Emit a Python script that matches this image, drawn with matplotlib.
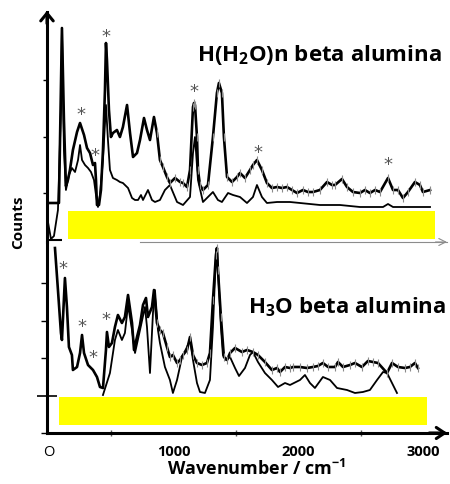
import matplotlib.pyplot as plt
from matplotlib.patches import Rectangle

plt.rcParams['font.family'] = ['Open Sans', 'DejaVu Sans']
plt.rcParams['mathtext.fontset'] = 'custom'
plt.rcParams['mathtext.rm'] = 'Open Sans:bold'
plt.rcParams['mathtext.it'] = 'Open Sans:bold'
plt.rcParams['mathtext.bf'] = 'Open Sans:bold'

# ---- H(H2O)n beta alumina (upper panel), counts in arbitrary units ----
wn_exp_top = [-16, 80, 104, 120, 136, 152, 168, 192, 225, 249, 281, 305, 329, 353, 369, 377,
              385, 401, 417, 433, 449, 457, 465, 481, 497, 513, 545, 569, 593, 626, 650, 674,
              706, 730, 762, 786, 810, 842, 866, 890, 914, 946, 970, 1011, 1051, 1075, 1107,
              1131, 1155, 1163, 1171, 1187, 1195, 1211, 1235, 1275, 1315, 1347, 1363, 1387,
              1403, 1428, 1468, 1508, 1532, 1572, 1612, 1636, 1668, 1708, 1748, 1788, 1829,
              1869, 1909, 1949, 1989, 2037, 2077, 2117, 2173, 2230, 2270, 2294, 2350, 2390,
              2438, 2494, 2534, 2574, 2615, 2655, 2719, 2759, 2799, 2839, 2879, 2935, 2975,
              2999, 3056]
cnt_exp_top = [39, 39, 214, 122, 56, 62, 72, 92, 110, 119, 107, 94, 89, 77, 79, 62,
               37, 37, 52, 92, 152, 199, 182, 132, 105, 109, 112, 105, 115, 137, 109, 85,
               89, 102, 124, 112, 102, 125, 109, 82, 75, 65, 59, 64, 60, 59, 55,
               72, 135, 139, 137, 105, 72, 57, 52, 57, 105, 149, 159, 149,
               105, 65, 60, 65, 69, 64, 72, 77, 82, 72, 59, 54, 55,
               54, 55, 52, 49, 52, 50, 50, 52, 60, 57, 57, 63, 55,
               50, 49, 52, 49, 52, 50, 64, 52, 52, 44, 50, 60, 57,
               50, 52]

wn_calc_top = [-8, 16, 40, 72, 96, 104, 120, 136, 160, 184, 209, 233, 249, 265, 289, 313, 337,
               361, 377, 393, 409, 433, 457, 473, 489, 513, 545, 569, 593, 634, 666, 690,
               714, 738, 754, 794, 826, 850, 890, 930, 970, 1027, 1075, 1131, 1155, 1171,
               1195, 1235, 1291, 1315, 1355, 1387, 1436, 1476, 1532, 1588, 1636, 1668, 1708,
               1748, 1829, 1933, 2013, 2173, 2334, 2494, 2679, 2719, 2759, 3056]
cnt_calc_top = [20, 3, 6, 32, 132, 212, 92, 52, 67, 74, 70, 82, 97, 82, 77, 74, 70,
                62, 47, 35, 47, 82, 137, 102, 72, 64, 62, 60, 59, 54, 44, 42,
                42, 47, 42, 52, 42, 40, 42, 52, 57, 40, 37, 45, 89, 105,
                62, 40, 47, 50, 42, 40, 49, 47, 45, 39, 45, 57, 45,
                39, 40, 40, 39, 37, 37, 35, 35, 38, 35, 35]

# ---- H3O beta alumina (lower panel) ----
wn_exp_bot = [48, 72, 96, 104, 128, 144, 160, 184, 192, 225, 249, 265, 281, 313, 353, 385, 409,
              433, 457, 465, 481, 505, 529, 553, 585, 609, 634, 666, 682, 706, 730, 754, 778,
              794, 826, 842, 866, 890, 914, 946, 970, 994, 1027, 1051, 1075, 1107, 1131, 1155,
              1187, 1227, 1267, 1291, 1315, 1339, 1347, 1355, 1379, 1403, 1428, 1452, 1492,
              1548, 1588, 1636, 1676, 1732, 1788, 1829, 1853, 1893, 1933, 1957, 2013, 2069,
              2117, 2157, 2197, 2238, 2294, 2318, 2358, 2414, 2454, 2510, 2558, 2598, 2639,
              2711, 2751, 2799, 2855, 2895, 2935, 2959]
cnt_exp_bot = [185, 143, 100, 93, 155, 126, 86, 78, 63, 66, 80, 98, 80, 68, 63, 56, 46,
               45, 83, 101, 86, 90, 106, 118, 110, 116, 138, 110, 83, 96, 108, 128, 135,
               116, 126, 143, 110, 103, 100, 86, 76, 78, 70, 73, 78, 83, 96, 78,
               70, 68, 70, 80, 133, 178, 185, 163, 116, 76, 73, 80, 85,
               81, 83, 81, 78, 71, 63, 65, 61, 66, 65, 66, 66, 65,
               66, 67, 70, 66, 66, 71, 66, 68, 70, 66, 72, 71, 70,
               60, 70, 66, 65, 66, 70, 65]

wn_calc_bot = [433, 489, 529, 553, 585, 609, 634, 666, 690, 730, 770, 786, 810, 834, 850, 874,
               890, 930, 970, 994, 1027, 1067, 1107, 1131, 1155, 1187, 1211, 1251, 1291, 1315,
               1339, 1347, 1355, 1379, 1395, 1420, 1452, 1492, 1524, 1572, 1612, 1636, 1676,
               1732, 1788, 1837, 1893, 1933, 2013, 2053, 2093, 2133, 2197, 2254, 2310, 2390,
               2454, 2518, 2574, 2631, 2679, 2711, 2751, 2791]
cnt_calc_bot = [38, 60, 93, 103, 93, 100, 128, 103, 80, 103, 126, 106, 60, 120, 143, 103,
                90, 66, 53, 40, 53, 76, 86, 93, 73, 50, 41, 40, 53, 106,
                178, 185, 166, 106, 78, 73, 76, 65, 57, 65, 78, 81, 71,
                60, 53, 46, 50, 48, 53, 58, 50, 45, 56, 53, 45, 43,
                40, 41, 43, 53, 61, 60, 50, 40]

# asterisks marking peaks
star_wn_top = [457, 257, 369, 1163, 1676, 2719]
star_cnt_top = [205, 127, 86, 150, 89, 77]
star_wn_bot = [112, 265, 353, 457]
star_cnt_bot = [164, 106, 75, 113]

err = 4
err_from = 850

fig = plt.figure(figsize=(4.5, 4.84), dpi=100)
ax1 = fig.add_axes([0.1044, 0.5, 0.8889, 0.4752])
ax2 = fig.add_axes([0.1044, 0.1054, 0.8889, 0.3946])

for ax, wn_e, c_e, wn_c, c_c, sw, sc in [
        (ax1, wn_exp_top, cnt_exp_top, wn_calc_top, cnt_calc_top, star_wn_top, star_cnt_top),
        (ax2, wn_exp_bot, cnt_exp_bot, wn_calc_bot, cnt_calc_bot, star_wn_bot, star_cnt_bot)]:
    ax.set_facecolor('none')
    ax.plot(wn_c, c_c, color='black', lw=1.3, solid_joinstyle='round', zorder=3)
    ax.plot(wn_e, c_e, color='black', lw=1.9, solid_joinstyle='round', zorder=4)
    ex = [w for w in wn_e if w >= err_from]
    ey = [c for w, c in zip(wn_e, c_e) if w >= err_from]
    ax.errorbar(ex, ey, yerr=err, fmt='none', ecolor='#8a8a8a', elinewidth=0.8, zorder=5)
    for w, c in zip(sw, sc):
        ax.text(w, c, '*', ha='center', va='center', fontsize=13, color='#555555',
                family='DejaVu Sans', zorder=6)
    ax.set_xlim(-16, 3192)
    ax.spines['top'].set_visible(False)
    ax.spines['right'].set_visible(False)
    ax.spines['left'].set_linewidth(2.2)

ax1.set_ylim(0, 230)
ax2.set_ylim(0, 191)

# yellow boxes
ax1.add_patch(Rectangle((152, 3), 2944, 28, color='#ffff00', lw=0, zorder=2))
ax2.add_patch(Rectangle((80, 8), 2952, 28, color='#ffff00', lw=0, zorder=2))

# upper panel axis
ax1.spines['bottom'].set_color('#8c8c8c')
ax1.spines['bottom'].set_linewidth(0.8)
ax1.spines['bottom'].set_bounds(730, 3192)
ax1.set_xticks([])
ax1.set_yticks([49, 105, 162])
ax1.set_yticks([2], minor=True)
ax1.tick_params(axis='y', which='major', direction='out', length=3, width=1, labelleft=False)
ax1.tick_params(axis='y', which='minor', direction='in', length=11, width=1.5, labelleft=False)
ax1.annotate('', xy=(3192, 0), xytext=(3100, 0), xycoords='data',
             arrowprops=dict(arrowstyle='->,head_length=0.5,head_width=0.25', lw=0.8,
                             color='#8c8c8c', shrinkA=0, shrinkB=0), annotation_clip=False)
ax1.annotate('', xy=(0, 1.005), xytext=(0, 0.95), xycoords='axes fraction',
             arrowprops=dict(arrowstyle='->,head_length=0.55,head_width=0.45', lw=2.2,
                             color='black', shrinkA=0, shrinkB=0), annotation_clip=False)

# lower panel axis
ax2.spines['bottom'].set_linewidth(2.2)
ax2.set_yticks([0, 75, 112, 150])
ax2.set_yticks([37], minor=True)
ax2.tick_params(axis='y', which='major', direction='out', length=4, width=1, labelleft=False)
ax2.tick_params(axis='y', which='minor', direction='inout', length=14, width=1.2, labelleft=False)
ax2.set_xticks([0, 1000, 2000, 3000])
ax2.set_xticklabels(['O', '1000', '2000', '3000'], fontsize=10.5, fontweight='bold')
ax2.get_xticklabels()[0].set_fontweight('normal')
ax2.set_xticks([500, 1500, 2500], minor=True)
ax2.tick_params(axis='x', which='major', length=0, pad=9)
ax2.tick_params(axis='x', which='minor', direction='inout', length=5, width=1, color='#555555')
ax2.annotate('', xy=(3195, 0), xytext=(3050, 0), xycoords='data',
             arrowprops=dict(arrowstyle='->,head_length=0.6,head_width=0.4', lw=2.2,
                             color='black', shrinkA=0, shrinkB=0), annotation_clip=False)

ax1.text(0.68, 0.815, 'H(H$_2$O)n beta alumina', transform=ax1.transAxes, ha='center',
         va='center', fontsize=16, fontweight='bold')
ax2.text(0.75, 0.66, 'H$_3$O beta alumina', transform=ax2.transAxes, ha='center',
         va='center', fontsize=16, fontweight='bold')

fig.text(0.04, 0.54, 'Counts', rotation=90, ha='center', va='center', fontsize=11,
         fontweight='bold')
fig.text(0.569, 0.032, 'Wavenumber / cm$^{-1}$', ha='center', va='center', fontsize=13,
         fontweight='bold')

fig.savefig('out.png', dpi=100)
